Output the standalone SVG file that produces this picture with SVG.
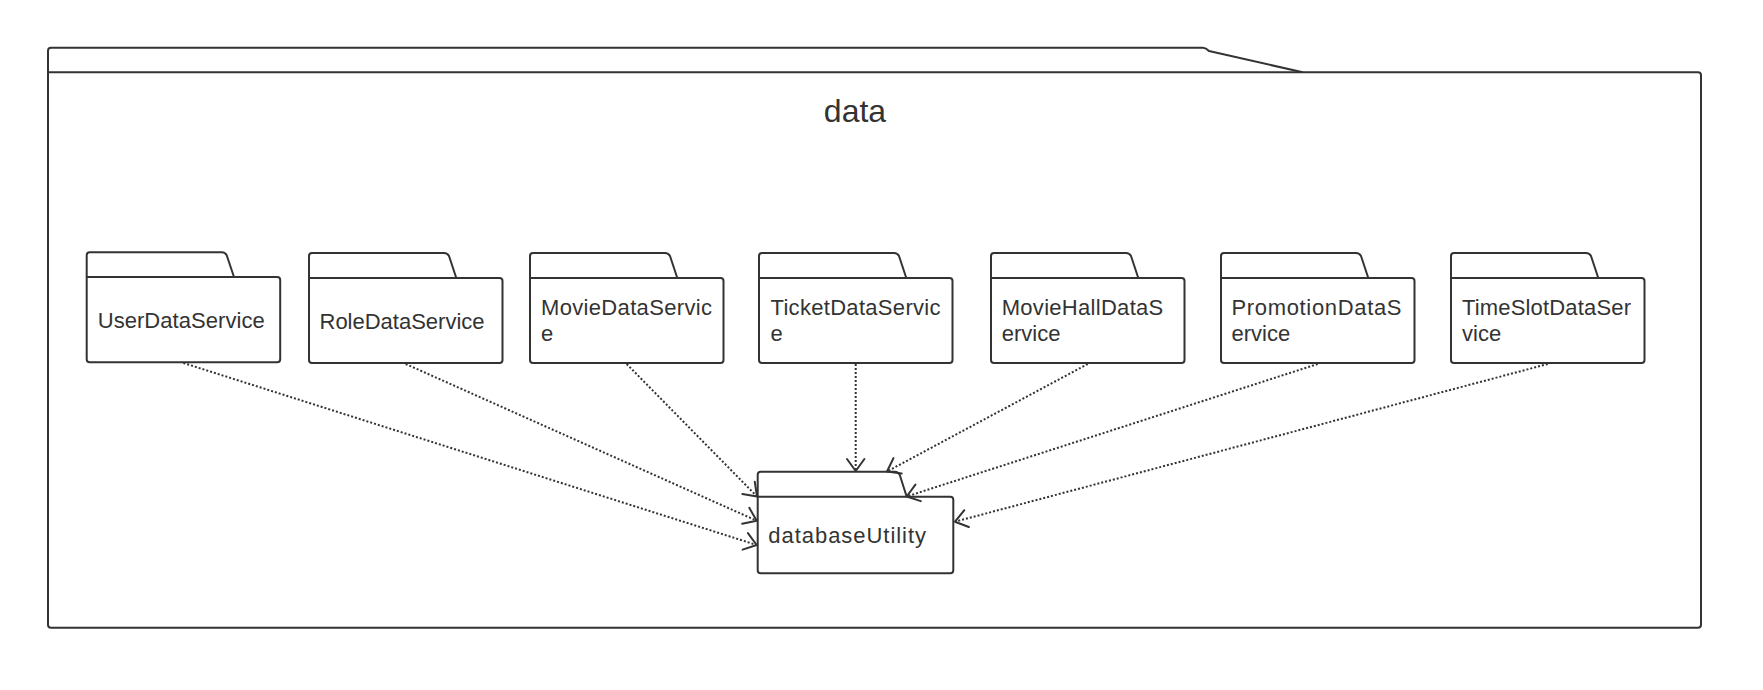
<svg xmlns="http://www.w3.org/2000/svg" width="1763" height="690" viewBox="0 0 1763 690">
<style>
.shape{fill:#ffffff;stroke:#333333;stroke-width:2;stroke-linejoin:round}
.lbl{font-family:"Liberation Sans",Arial,sans-serif;font-size:22px;fill:#333333}
.title{font-family:"Liberation Sans",Arial,sans-serif;font-size:32px;fill:#333333}
.dep{fill:none;stroke:#333333;stroke-width:2;stroke-dasharray:2 2;marker-end:url(#open)}
</style>
<defs>
<marker id="open" viewBox="-16 -12 20 24" refX="0" refY="0" markerWidth="20" markerHeight="24" markerUnits="userSpaceOnUse" orient="auto">
<path d="M-12,-8.7 L0,0 L-12,8.7" fill="none" stroke="#333333" stroke-width="2" stroke-dasharray="none" stroke-linecap="round" stroke-linejoin="round"/>
</marker>
</defs>
<rect width="1763" height="690" fill="#ffffff"/>
<g id="data">
<path class="shape" d="M48,72.3 V50.7 Q48,47.7 51,47.7 H1203 Q1206,47.7 1209,51 L1302.7,72.3"/>
<path class="shape" d="M48,72.3 H1698 Q1701,72.3 1701,75.3 V624.7 Q1701,627.7 1698,627.7 H51 Q48,627.7 48,624.7 Z"/>
<text class="title" x="855" y="122.3" text-anchor="middle">data</text>
</g>
<g id="UserDataService">
<path class="shape" d="M86.7,277 V255.3 Q86.7,252.3 89.7,252.3 H221.7 Q225.2,252.3 226.7,255.3 L234,277"/>
<path class="shape" d="M86.7,277 H277.2 Q280.2,277 280.2,280 V359.3 Q280.2,362.3 277.2,362.3 H89.7 Q86.7,362.3 86.7,359.3 Z"/>
<text class="lbl" x="97.7" y="328.3" textLength="167" lengthAdjust="spacing">UserDataService</text>
</g>
<g id="RoleDataService">
<path class="shape" d="M309,278 V256 Q309,253 312,253 H444 Q447.5,253 449,256 L456.3,278"/>
<path class="shape" d="M309,278 H499.5 Q502.5,278 502.5,281 V360 Q502.5,363 499.5,363 H312 Q309,363 309,360 Z"/>
<text class="lbl" x="319.5" y="329" textLength="165" lengthAdjust="spacing">RoleDataService</text>
</g>
<g id="MovieDataService">
<path class="shape" d="M530,278 V256 Q530,253 533,253 H665 Q668.5,253 670,256 L677.3,278"/>
<path class="shape" d="M530,278 H720.5 Q723.5,278 723.5,281 V360 Q723.5,363 720.5,363 H533 Q530,363 530,360 Z"/>
<text class="lbl" x="541" y="315" textLength="171" lengthAdjust="spacing">MovieDataServic</text>
<text class="lbl" x="541" y="340.7">e</text>
</g>
<g id="TicketDataService">
<path class="shape" d="M759,278 V256 Q759,253 762,253 H894 Q897.5,253 899,256 L906.3,278"/>
<path class="shape" d="M759,278 H949.5 Q952.5,278 952.5,281 V360 Q952.5,363 949.5,363 H762 Q759,363 759,360 Z"/>
<text class="lbl" x="770.5" y="315" textLength="170" lengthAdjust="spacing">TicketDataServic</text>
<text class="lbl" x="770.5" y="340.7">e</text>
</g>
<g id="MovieHallDataService">
<path class="shape" d="M991,278 V256 Q991,253 994,253 H1126 Q1129.5,253 1131,256 L1138.3,278"/>
<path class="shape" d="M991,278 H1181.5 Q1184.5,278 1184.5,281 V360 Q1184.5,363 1181.5,363 H994 Q991,363 991,360 Z"/>
<text class="lbl" x="1001.7" y="315" textLength="161.6" lengthAdjust="spacing">MovieHallDataS</text>
<text class="lbl" x="1001.7" y="340.5">ervice</text>
</g>
<g id="PromotionDataService">
<path class="shape" d="M1221,278 V256 Q1221,253 1224,253 H1356 Q1359.5,253 1361,256 L1368.3,278"/>
<path class="shape" d="M1221,278 H1411.5 Q1414.5,278 1414.5,281 V360 Q1414.5,363 1411.5,363 H1224 Q1221,363 1221,360 Z"/>
<text class="lbl" x="1231.5" y="315" textLength="170" lengthAdjust="spacing">PromotionDataS</text>
<text class="lbl" x="1231.5" y="340.5">ervice</text>
</g>
<g id="TimeSlotDataService">
<path class="shape" d="M1451,278 V256 Q1451,253 1454,253 H1586 Q1589.5,253 1591,256 L1598.3,278"/>
<path class="shape" d="M1451,278 H1641.5 Q1644.5,278 1644.5,281 V360 Q1644.5,363 1641.5,363 H1454 Q1451,363 1451,360 Z"/>
<text class="lbl" x="1462" y="315" textLength="169" lengthAdjust="spacing">TimeSlotDataSer</text>
<text class="lbl" x="1462" y="340.5">vice</text>
</g>
<g id="databaseUtility">
<path class="shape" d="M757.7,496.7 V474.7 Q757.7,471.7 760.7,471.7 H894.7 Q898.2,471.7 899.7,474.7 L906.7,496.7"/>
<path class="shape" d="M757.7,496.7 H950.3 Q953.3,496.7 953.3,499.7 V570.3 Q953.3,573.3 950.3,573.3 H760.7 Q757.7,573.3 757.7,570.3 Z"/>
<text class="lbl" x="768.3" y="543.3" textLength="157.7" lengthAdjust="spacing">databaseUtility</text>
</g>
<g id="connectors">
<path class="dep" d="M183.4,363 L756.7,545"/>
<path class="dep" d="M405.7,364 L756.7,520.7"/>
<path class="dep" d="M626.7,364 L757,496.5"/>
<path class="dep" d="M855.7,364 L855.7,471"/>
<path class="dep" d="M1087.7,364 L887,471.5"/>
<path class="dep" d="M1317.7,364 L906.7,496.5"/>
<path class="dep" d="M1547.7,364 L955,521.7"/>
</g>
</svg>
